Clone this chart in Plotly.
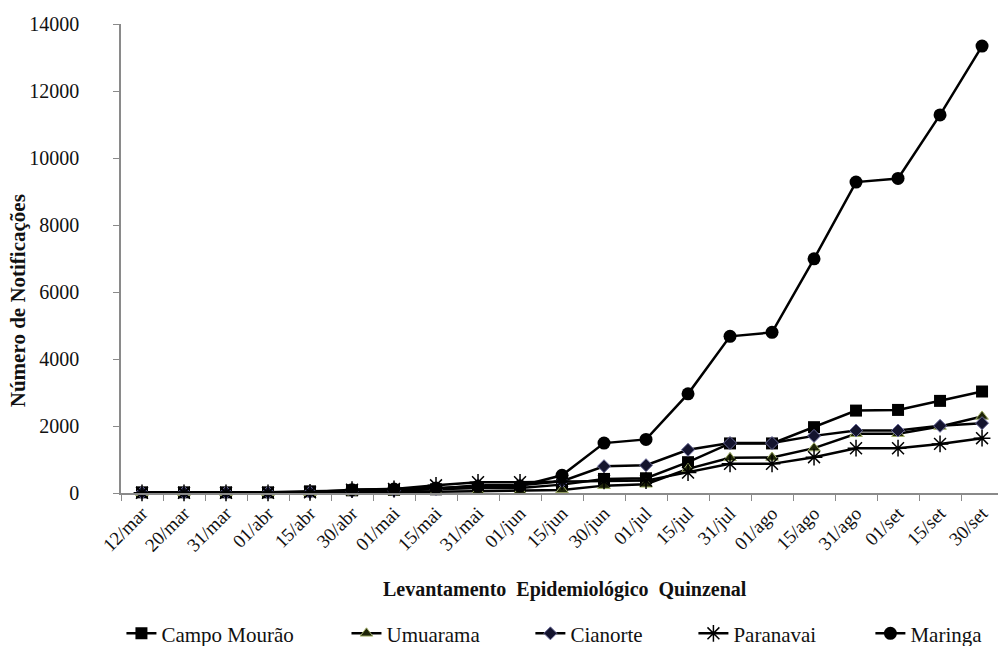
import plotly.graph_objects as go

categories = ["12/mar", "20/mar", "31/mar", "01/abr", "15/abr", "30/abr", "01/mai",
              "15/mai", "31/mai", "01/jun", "15/jun", "30/jun", "01/jul", "15/jul",
              "31/jul", "01/ago", "15/ago", "31/ago", "01/set", "15/set", "30/set"]

campo_mourao = [20, 20, 20, 20, 50, 80, 90, 110, 150, 150, 250, 420, 440, 920,
                1480, 1480, 1965, 2460, 2480, 2750, 3030]
umuarama = [5, 5, 5, 5, 5, 20, 25, 40, 60, 60, 90, 220, 260, 720,
            1050, 1060, 1340, 1770, 1770, 1985, 2285]
cianorte = [10, 10, 10, 10, 20, 60, 70, 120, 230, 230, 350, 800, 830, 1290,
            1490, 1490, 1705, 1865, 1865, 2005, 2085]
paranavai = [5, 5, 5, 5, 20, 100, 120, 230, 320, 320, 350, 360, 370, 610,
             870, 870, 1070, 1337, 1337, 1466, 1636]
maringa = [None, None, None, None, None, 100, 120, 150, 200, 210, 530, 1490, 1600, 2960,
           4676, 4795, 6990, 9280, 9390, 11285, 13340]

y_ticks = [0, 2000, 4000, 6000, 8000, 10000, 12000, 14000]

series = [
    ("Campo Mourão", campo_mourao, dict(symbol="square", size=12, color="#000000")),
    ("Umuarama", umuarama, dict(symbol="triangle-up", size=11, color="#1e2408",
                                line=dict(color="#a3b06a", width=1))),
    ("Cianorte", cianorte, dict(symbol="diamond", size=10, color="#14142e",
                                line=dict(color="#6a6a9a", width=1))),
    ("Paranavai", paranavai, dict(symbol="asterisk-open", size=14, color="#000000",
                                  line=dict(color="#000000", width=1.5))),
    ("Maringa", maringa, dict(symbol="circle", size=13, color="#000000")),
]

legend_ids = ["legend", "legend2", "legend3", "legend4", "legend5"]
legend_x = [0.0005, 0.2571, 0.4668, 0.6527, 0.8545]

serif = "Liberation Serif, Times New Roman, serif"

fig = go.Figure()
for (name, vals, mk), lid in zip(series, legend_ids):
    fig.add_trace(go.Scatter(
        x=categories, y=vals, name=name, mode="lines+markers",
        line=dict(color="#000000", width=2.5),
        marker=mk, cliponaxis=False, connectgaps=False, legend=lid,
    ))

legend_layout = {}
for lid, lx in zip(legend_ids, legend_x):
    legend_layout[lid] = dict(
        orientation="h", x=lx, xanchor="left", y=-0.30, yanchor="middle",
        font=dict(family=serif, size=21, color="#111111"),
        itemwidth=30, bgcolor="rgba(0,0,0,0)",
    )

fig.update_layout(
    width=998, height=646,
    margin=dict(l=121, r=0, t=24, b=153, autoexpand=False),
    paper_bgcolor="white", plot_bgcolor="white",
    font=dict(family=serif, color="#111111"),
    showlegend=True,
    xaxis=dict(
        type="category", range=[-0.5, 20.38], automargin=False,
        showline=True, linecolor="#8a8a8a", linewidth=1.5,
        ticks="outside", ticklen=6, tickcolor="#8a8a8a", tickson="boundaries",
        tickangle=-45, tickfont=dict(family=serif, size=19, color="#111111"),
        showgrid=False, zeroline=False,
    ),
    yaxis=dict(
        range=[0, 14000], tickvals=y_ticks, ticktext=[str(v) for v in y_ticks],
        automargin=False,
        showline=True, linecolor="#8a8a8a", linewidth=1.5,
        ticks="outside", ticklen=6, tickcolor="#8a8a8a",
        ticklabelstandoff=30,
        tickfont=dict(family=serif, size=20, color="#111111"),
        showgrid=False, zeroline=False,
    ),
    annotations=[
        dict(text="<b>Número de Notificações</b>", xref="paper", yref="paper",
             x=-0.118, y=0.41, xanchor="center", yanchor="middle",
             textangle=-90, showarrow=False,
             font=dict(family=serif, size=21, color="#111111")),
        dict(text="<b>Levantamento  Epidemiológico  Quinzenal</b>", xref="paper", yref="paper",
             x=0.506, y=-0.205, xanchor="center", yanchor="middle", showarrow=False,
             font=dict(family=serif, size=20, color="#111111")),
    ],
    **legend_layout,
)

fig.write_html(
    "out.html",
    config={"displayModeBar": False},
    post_script="document.body.style.margin='0';document.body.style.overflow='hidden';",
)
